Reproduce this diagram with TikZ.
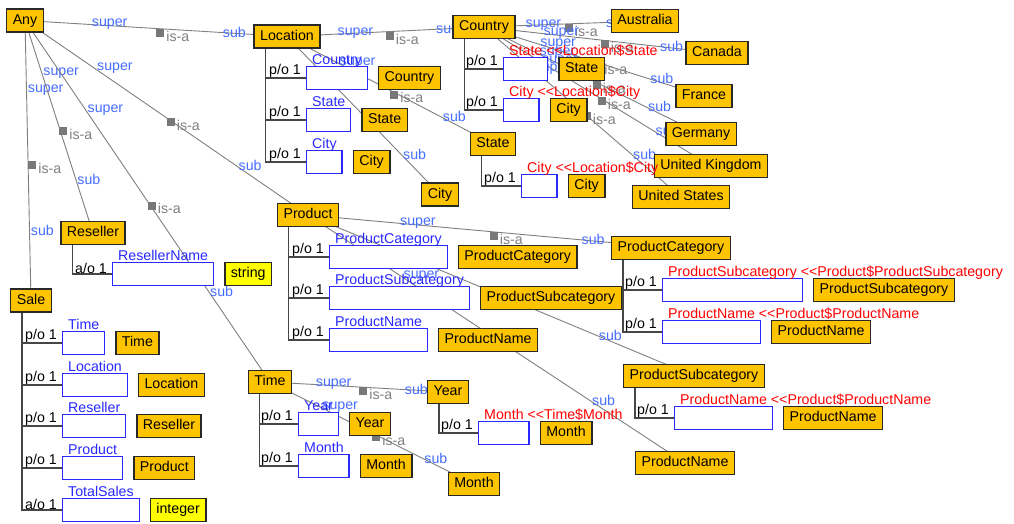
\documentclass[tikz,border=0pt]{standalone}
\usepackage{fontspec}
\setmainfont{Liberation Sans}
\pgfdeclarelayer{bg}
\pgfdeclarelayer{links}
\pgfsetlayers{bg,links,main}

\definecolor{boxorange}{RGB}{255,196,0}
\definecolor{boxyellow}{RGB}{255,255,0}
\definecolor{boxedge}{RGB}{40,40,40}
\definecolor{slotblue}{RGB}{40,40,255}
\definecolor{linkblue}{RGB}{70,110,255}
\definecolor{linkgray}{RGB}{128,128,128}
\definecolor{markgray}{RGB}{120,120,120}
\definecolor{refred}{RGB}{255,0,0}
\definecolor{treegray}{RGB}{70,70,70}

% "<<" without the TeX ligature
\newcommand{\llt}{<\kern0pt<}

\tikzset{
  every node/.style={font=\fontsize{14.2}{16}\selectfont},
  ent/.style={draw=boxedge, line width=1.4pt, fill=boxorange, inner xsep=6pt,
    inner ysep=0pt, minimum height=23pt, text height=10pt, text depth=3pt},
  prim/.style={ent, fill=boxyellow},
  slot/.style={draw=slotblue, line width=1.2pt, fill=white, inner xsep=5.5pt,
    inner ysep=0pt, minimum height=23pt, text height=10pt, text depth=3pt},
  slotname/.style={anchor=base west, inner sep=0pt, text=slotblue},
  refname/.style={anchor=base west, inner sep=0pt, text=refred},
  card/.style={anchor=south east, inner sep=0pt, text=black},
  isa/.style={draw=linkgray, line width=0.9pt},
  supl/.style={pos=.25, anchor=west, inner sep=1pt, yshift=0.5pt, text=linkblue},
  subl/.style={pos=.75, anchor=west, inner sep=1pt, yshift=0.5pt, text=linkblue},
  isamark/.style={pos=.5, anchor=north west, fill=markgray, minimum size=8pt, inner sep=0pt},
  isal/.style={pos=.5, anchor=west, xshift=9pt, yshift=-7.5pt, inner sep=1pt, text=linkgray},
  tree/.style={draw=treegray, line width=1.2pt},
}

% one attribute row: id, position, cardinality, slot name, label style, label, type style, type
\newcommand{\slotrow}[8]{%
  \node[slot, anchor=west] (#1) at #2 {\phantom{#4}};
  \node[card] at ([xshift=-5pt]#1.west) {#3};
  \node[#5] at ([xshift=6pt,yshift=1pt]#1.north west) {#6};
  \node[#7, anchor=west] (#1-t) at ([xshift=10pt]#1.east) {#8};
}
% is-a link from super to sub
\newcommand{\isalink}[2]{%
  \draw[isa] (#1.center) -- node[supl]{super} node[isamark]{} node[isal]{is-a}
    node[subl]{sub} (#2.center);
}
% part-of tree branch
\newcommand{\branch}[2]{\draw[tree] ([xshift=12pt]#1.south west) |- (#2.west);}

\begin{document}
\begin{tikzpicture}[x=1pt,y=-1pt]
\begin{pgfonlayer}{bg}
  \fill[white] (0,0) rectangle (1014,523);
\end{pgfonlayer}
\useasboundingbox (0,0) rectangle (1014,523);

% entity types
\node[ent] (any)   at (25,20.5)   {Any};
\node[ent] (loc)   at (287,36.5)  {Location};
\node[ent] (ctry)  at (484,27)  {Country};
\node[ent] (aus)   at (645,21)  {Australia};
\node[ent] (can)   at (717,53)  {Canada};
\node[ent] (fra)   at (704,96)  {France};
\node[ent] (ger)   at (701,134) {Germany};
\node[ent] (uk)    at (711,166) {United Kingdom};
\node[ent] (us)    at (681,197) {United States};
\node[ent] (stS)   at (493,144) {State};
\node[ent] (ciS)   at (440,194.5) {City};
\node[ent] (prod)  at (308,215) {Product};
\node[ent] (pcat)  at (671,248) {ProductCategory};
\node[ent] (psub)  at (694,376) {ProductSubcategory};
\node[ent] (pname) at (685,463) {ProductName};
\node[ent] (res)   at (93,233)  {Reseller};
\node[ent] (sale)  at (31,300.5)  {Sale};
\node[ent] (time)  at (270,382) {Time};
\node[ent] (year)  at (448,392) {Year};
\node[ent] (month) at (474,484) {Month};

% Location
\slotrow{lA}{(306,78)}{p/o 1}{Country}{slotname}{Country}{ent}{Country}
\slotrow{lB}{(306,120)}{p/o 1}{State}{slotname}{State}{ent}{State}
\slotrow{lC}{(306,162)}{p/o 1}{City}{slotname}{City}{ent}{City}
% Country
\slotrow{cA}{(503,69)}{p/o 1}{State}{refname}{State \llt Location\$State}{ent}{State}
\slotrow{cB}{(503,110)}{p/o 1}{City}{refname}{City \llt Location\$City}{ent}{City}
% State
\slotrow{sA}{(521,186)}{p/o 1}{City}{refname}{City \llt Location\$City}{ent}{City}
% Product
\slotrow{pA}{(329,257)}{p/o 1}{ProductCategory}{slotname}{ProductCategory}{ent}{ProductCategory}
\slotrow{pB}{(329,298)}{p/o 1}{ProductSubcategory}{slotname}{ProductSubcategory}{ent}{ProductSubcategory}
\slotrow{pC}{(329,340)}{p/o 1}{ProductName}{slotname}{ProductName}{ent}{ProductName}
% ProductCategory
\slotrow{kA}{(662,290)}{p/o 1}{ProductSubcategory}{refname}{ProductSubcategory \llt Product\$ProductSubcategory}{ent}{ProductSubcategory}
\slotrow{kB}{(662,332)}{p/o 1}{ProductName}{refname}{ProductName \llt Product\$ProductName}{ent}{ProductName}
% ProductSubcategory
\slotrow{qA}{(674,418)}{p/o 1}{ProductName}{refname}{ProductName \llt Product\$ProductName}{ent}{ProductName}
% Reseller
\slotrow{rA}{(112,274)}{a/o 1}{ResellerName}{slotname}{ResellerName}{prim}{string}
% Sale
\slotrow{eA}{(62,343)}{p/o 1}{Time}{slotname}{Time}{ent}{Time}
\slotrow{eB}{(62,385)}{p/o 1}{Location}{slotname}{Location}{ent}{Location}
\slotrow{eC}{(62,426)}{p/o 1}{Reseller}{slotname}{Reseller}{ent}{Reseller}
\slotrow{eD}{(62,468)}{p/o 1}{Product}{slotname}{Product}{ent}{Product}
\slotrow{eE}{(62,510)}{a/o 1}{TotalSales}{slotname}{TotalSales}{prim}{integer}
% Time
\slotrow{tA}{(298,424)}{p/o 1}{Year}{slotname}{Year}{ent}{Year}
\slotrow{tB}{(298,466)}{p/o 1}{Month}{slotname}{Month}{ent}{Month}
% Year
\slotrow{yA}{(478,433)}{p/o 1}{Month}{refname}{Month \llt Time\$Month}{ent}{Month}

\begin{pgfonlayer}{links}
  % part-of trees
  \branch{loc}{lA} \branch{loc}{lB} \branch{loc}{lC}
  \branch{ctry}{cA} \branch{ctry}{cB}
  \branch{stS}{sA}
  \branch{prod}{pA} \branch{prod}{pB} \branch{prod}{pC}
  \branch{pcat}{kA} \branch{pcat}{kB}
  \branch{psub}{qA}
  \branch{res}{rA}
  \branch{sale}{eA} \branch{sale}{eB} \branch{sale}{eC} \branch{sale}{eD} \branch{sale}{eE}
  \branch{time}{tA} \branch{time}{tB}
  \branch{year}{yA}
  % generalisations
  \isalink{any}{loc}
  \isalink{any}{sale}
  \isalink{any}{res}
  \isalink{any}{time}
  \isalink{any}{prod}
  \isalink{loc}{ctry}
  \isalink{loc}{stS}
  \isalink{loc}{ciS}
  \isalink{ctry}{aus}
  \isalink{ctry}{can}
  \isalink{ctry}{fra}
  \isalink{ctry}{ger}
  \isalink{ctry}{uk}
  \isalink{ctry}{us}
  \isalink{prod}{pcat}
  \isalink{prod}{psub}
  \isalink{prod}{pname}
  \isalink{time}{year}
  \isalink{time}{month}
\end{pgfonlayer}
\end{tikzpicture}
\end{document}
